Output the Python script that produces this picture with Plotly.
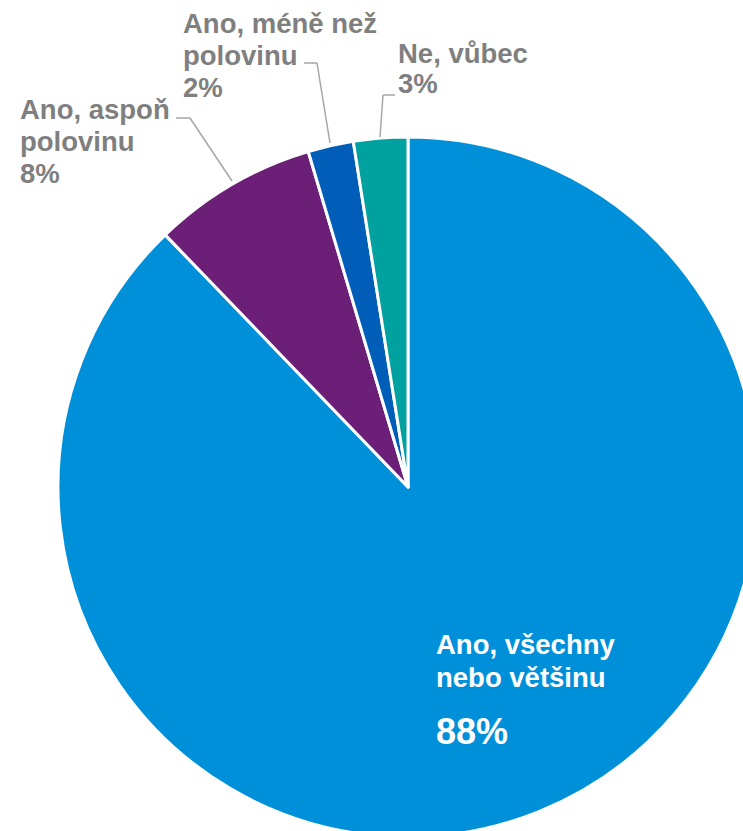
import plotly.graph_objects as go

# ---- data ----
categories = ["Ano, všechny nebo většinu", "Ano, aspoň polovinu", "Ano, méně než polovinu", "Ne, vůbec"]
values = [87.8, 7.6, 2.1, 2.5]
pct_labels = ["88%", "8%", "2%", "3%"]
colors = ["#0090D9", "#6C1F77", "#005EB8", "#00A19E"]

# ---- layout geometry (pixels) ----
W, H = 760, 840
CX, CY, R = 408, 487, 350

def px(x):
    return x / W

def py(y):
    return 1 - y / H

fig = go.Figure(go.Pie(
    labels=categories,
    values=values,
    sort=False,
    direction="clockwise",
    rotation=0,
    textinfo="none",
    hoverinfo="label+percent",
    marker=dict(colors=colors, line=dict(color="white", width=3)),
    domain=dict(x=[px(CX - R), px(CX + R)], y=[py(CY + R), py(CY - R)]),
    showlegend=False,
))

gray = "#7F7F7F"
FONT = "Liberation Sans, Arial, sans-serif"
FS = 27.5
annotations = []

def add_text(text, x, ycenter, size, color):
    annotations.append(dict(
        text=f"<b>{text}</b>", x=px(x), y=py(ycenter), xref="paper", yref="paper",
        xanchor="left", yanchor="middle", showarrow=False,
        font=dict(family=FONT, size=size, color=color),
    ))

# outside labels (line by line)
lab_aspon = ["Ano, aspoň", "polovinu", pct_labels[1]]
for i, t in enumerate(lab_aspon):
    add_text(t, 18, 109.5 + 32 * i, FS, gray)

lab_mene = ["Ano, méně než", "polovinu", pct_labels[2]]
for i, t in enumerate(lab_mene):
    add_text(t, 181, 23.5 + 32 * i, FS, gray)

lab_ne = ["Ne, vůbec", pct_labels[3]]
for i, t in enumerate(lab_ne):
    add_text(t, 396, 53.5 + 30 * i, FS, gray)

# inside label
add_text("Ano, všechny", 434, 644, FS, "white")
add_text("nebo většinu", 434, 677, FS, "white")
add_text(pct_labels[0], 434, 731, 36, "white")

# leader lines
leader_pts = [
    [(176, 118), (190, 118), (232, 181)],
    [(304, 63), (317, 63), (330, 143)],
    [(395, 95), (383, 95), (380, 137)],
]
shapes = []
for pts in leader_pts:
    for (x0, y0), (x1, y1) in zip(pts[:-1], pts[1:]):
        shapes.append(dict(type="line", xref="paper", yref="paper",
                           x0=px(x0), y0=py(y0), x1=px(x1), y1=py(y1),
                           line=dict(color="#A6A6A6", width=1.5)))

fig.update_layout(
    width=W, height=H,
    margin=dict(l=0, r=0, t=0, b=0),
    paper_bgcolor="white", plot_bgcolor="white",
    annotations=annotations, shapes=shapes,
)

fig.write_html("out.html", post_script="document.body.style.overflow='hidden';document.body.style.margin='0';")
